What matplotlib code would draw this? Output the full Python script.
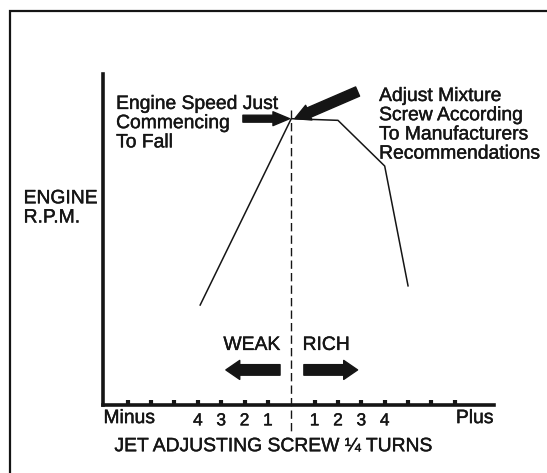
import matplotlib.pyplot as plt
import matplotlib.patheffects as pe
from matplotlib.patches import Rectangle

# jet screw position in 1/4 turns (negative = weak, positive = rich)
screw_turns = [-3.9, 0, 2, 4, 5]
engine_rpm = [30.2, 86.5, 86.0, 72.2, 36.0]

tick_pos = [-7, -6, -5, -4, -3, -2, -1, 1, 2, 3, 4, 5, 6, 7]
tick_labels = ['', '', '', '4', '3', '2', '1', '1', '2', '3', '4', '', '', '']

plt.rcParams['font.family'] = ['Liberation Sans', 'DejaVu Sans']
ink = '#151515'
# slightly heavier strokes on the lettering
heavy = [pe.withStroke(linewidth=0.3, foreground=ink)]

fig = plt.figure(figsize=(5.47, 4.73), dpi=100)
ax = fig.add_axes([103 / 547, 1 - 405 / 473, 391 / 547, 331 / 473])
ax.set_xlim(-8.06, 8.68)
ax.set_ylim(0, 100)

# outer frame of the figure box
fig.patches.append(Rectangle((10 / 547, -0.1), 1.2, 1 - 11 / 473 + 0.1,
                             transform=fig.transFigure, fill=False,
                             edgecolor=ink, linewidth=1.6))

# axes: only left and bottom, drawn heavy
for s in ['top', 'right']:
    ax.spines[s].set_visible(False)
for s in ['left', 'bottom']:
    ax.spines[s].set_linewidth(2.6)
    ax.spines[s].set_color(ink)
ax.set_yticks([])
ax.set_xticks(tick_pos)
ax.set_xticklabels(tick_labels, fontsize=12.5)
ax.tick_params(axis='x', direction='in', length=3.4, width=3, color=ink,
               pad=6, labelcolor=ink)
for lab in ax.get_xticklabels():
    lab.set_path_effects(heavy)

# rpm curve
ax.plot(screw_turns, engine_rpm, color=ink, linewidth=1.1)

# dashed line at the point where speed just starts to fall
peak_x = screw_turns[1]
peak_y = engine_rpm[1]
ax.plot([peak_x, peak_x], [peak_y + 2.7, -7.9], color=ink, linewidth=1,
        dashes=(6, 3), clip_on=False)

# arrows
ax.annotate('', xy=(peak_x - 0.07, peak_y), xytext=(-2.07, peak_y),
            arrowprops=dict(arrowstyle='simple,head_length=1.2,head_width=1.0,tail_width=0.5',
                            mutation_scale=10, color=ink, shrinkA=0, shrinkB=0))
ax.annotate('', xy=(peak_x + 0.15, peak_y), xytext=(2.84, 94.7),
            arrowprops=dict(arrowstyle='simple,head_length=1.1,head_width=1.15,tail_width=0.72',
                            mutation_scale=10, color=ink, shrinkA=0, shrinkB=0))
ax.annotate('', xy=(-2.8, 10.6), xytext=(-0.48, 10.6),
            arrowprops=dict(arrowstyle='simple,head_length=1.0,head_width=1.37,tail_width=0.76',
                            mutation_scale=10, color=ink, shrinkA=0, shrinkB=0))
ax.annotate('', xy=(2.84, 10.6), xytext=(0.54, 10.6),
            arrowprops=dict(arrowstyle='simple,head_length=1.0,head_width=1.37,tail_width=0.76',
                            mutation_scale=10, color=ink, shrinkA=0, shrinkB=0))

# labels
fs = 13.9
kw = dict(fontsize=fs, color=ink, path_effects=heavy)
ax.text(-7.5, 85.0, 'Engine Speed Just\nCommencing\nTo Fall',
        ha='left', va='center', linespacing=1.17, **kw)
ax.text(3.76, 84.5, 'Adjust Mixture\nScrew According\nTo Manufacturers\nRecommendations',
        ha='left', va='center', linespacing=1.17, **kw)
ax.text(-11.46, 59.4, 'ENGINE\nR.P.M.', ha='left', va='center',
        linespacing=1.17, **kw)
ax.text(-1.69, 18.0, 'WEAK', ha='center', va='center', **kw)
ax.text(1.49, 18.0, 'RICH', ha='center', va='center', **kw)
ax.text(-8.04, -4.1, 'Minus', ha='left', va='center', **kw)
ax.text(8.66, -4.1, 'Plus', ha='right', va='center', **kw)
ax.text(0.435, -0.126, 'JET ADJUSTING SCREW \u00bc TURNS', ha='center',
        va='center', transform=ax.transAxes, **kw)

fig.savefig('out.png', dpi=100)
